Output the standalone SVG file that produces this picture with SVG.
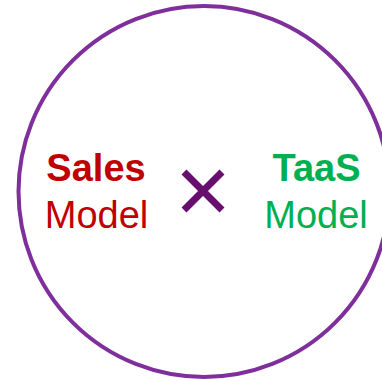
<svg xmlns="http://www.w3.org/2000/svg" width="382" height="381" viewBox="0 0 382 381">
<style>
.t{font-family:"Liberation Sans",Arial,sans-serif;font-size:38px;text-anchor:middle}
.b{font-weight:bold}
.red{fill:#C00000}
.grn{fill:#00B050}
</style>
<rect width="382" height="381" fill="#FFFFFF"/>
<g id="circle">
<circle cx="204" cy="191.5" r="185.5" fill="none" stroke="#7E2F9C" stroke-width="4"/>
</g>
<g id="sales">
<text class="t b red" x="96" y="181">Sales</text>
<text class="t red" x="96.5" y="228">Model</text>
</g>
<g id="times">
<path d="M184,172 L222,210 M222,172 L184,210" stroke="#660F6E" stroke-width="7" fill="none"/>
</g>
<g id="taas">
<text class="t b grn" x="316.5" y="181">TaaS</text>
<text class="t grn" x="316" y="228">Model</text>
</g>
<g id="connectors"/>
</svg>
